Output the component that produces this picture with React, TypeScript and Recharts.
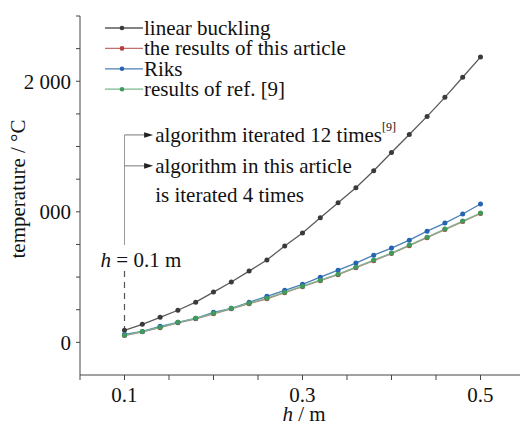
import React from "react";
import { LineChart, Line, XAxis, YAxis, Legend, ReferenceLine, ReferenceDot } from "recharts";

const hValues = [0.1, 0.12, 0.14, 0.16, 0.18, 0.2, 0.22, 0.24, 0.26, 0.28, 0.3, 0.32, 0.34, 0.36, 0.38, 0.4, 0.42, 0.44, 0.46, 0.48, 0.5];
const linearBuckling = [92, 138, 192, 246, 308, 385, 462, 546, 631, 738, 838, 954, 1069, 1185, 1315, 1454, 1592, 1731, 1877, 2031, 2185];
const thisArticle = [52, 81, 112, 150, 180, 219, 257, 296, 334, 380, 426, 472, 518, 572, 626, 680, 741, 802, 864, 925, 987];
const riks = [61, 84, 123, 154, 184, 230, 261, 307, 353, 399, 445, 499, 553, 607, 668, 722, 783, 852, 914, 983, 1060];
const refNine = [54, 84, 115, 154, 184, 223, 261, 300, 338, 384, 430, 476, 522, 576, 630, 684, 745, 806, 868, 929, 991];

const xTicks = [0.05, 0.1, 0.15, 0.2, 0.25, 0.3, 0.35, 0.4, 0.45, 0.5];
const xLabels: Record<string, string> = { "0.1": "0.1", "0.3": "0.3", "0.5": "0.5" };
const yTicks = [0, 250, 500, 750, 1000, 1250, 1500, 1750, 2000, 2250, 2500];
const yLabels: Record<string, string> = { "0": "0", "1000": "000", "2000": "2 000" };

const seriesNames = ["linear buckling", "the results of this article", "Riks", "results of ref. [9]"];

const data = hValues.map((h, i) => ({
  h,
  lin: linearBuckling[i],
  art: thisArticle[i],
  riks: riks[i],
  ref: refNine[i],
}));

const FONT = "'Liberation Serif', 'Times New Roman', serif";
const FS = 21;
const textStyle: React.CSSProperties = { fontFamily: FONT, fontSize: FS };

const styles = [
  { key: "lin", stroke: "#5a5a5a", dot: "#3a3a3a" },
  { key: "art", stroke: "#c07070", dot: "#b83a3a" },
  { key: "riks", stroke: "#4a7fb5", dot: "#2563b5" },
  { key: "ref", stroke: "#7bb88f", dot: "#3e9b5c" },
];

const LegendContent = () => (
  <svg width={300} height={90} style={{ overflow: "visible", display: "block" }}>
    {seriesNames.map((name, i) => {
      const y = 12 + i * 20.4;
      const s = styles[i];
      return (
        <g key={name}>
          <line x1={5} x2={43} y1={y} y2={y} stroke={s.stroke} strokeWidth={1.3} />
          <circle cx={22} cy={y} r={2.3} fill={s.dot} />
          <text x={44} y={y} dy="0.33em" style={textStyle} fill="#111">
            {name}
          </text>
        </g>
      );
    })}
  </svg>
);

const TextAt = (txt: React.ReactNode, anchor: "start" | "middle" = "start") => (props: any) => (
  <text x={props.cx} y={props.cy} dy="0.33em" textAnchor={anchor} style={textStyle} fill="#111">
    {txt}
  </text>
);

const Arrowhead = (props: any) => (
  <polygon
    points={`${props.cx},${props.cy} ${props.cx - 9},${props.cy - 2.8} ${props.cx - 9},${props.cy + 2.8}`}
    fill="#222"
  />
);

export default function App() {
  return (
    <div style={{ position: "absolute", left: 0, top: 0, width: 520, height: 426, background: "#fff", fontFamily: FONT }}>
      <LineChart width={520} height={426} data={data} margin={{ top: 16, right: 0, left: 0, bottom: 0 }}>
        <XAxis
          dataKey="h"
          type="number"
          domain={[0.05, 0.5444]}
          ticks={xTicks}
          allowDataOverflow
          height={51}
          tickSize={5}
          tickMargin={7}
          stroke="#444"
          tick={{ fontFamily: FONT, fontSize: FS, fill: "#111" }}
          tickFormatter={(v: number) => xLabels[String(Math.round(v * 100) / 100)] ?? ""}
          interval={0}
        />
        <YAxis
          type="number"
          domain={[-250, 2500]}
          ticks={yTicks}
          width={80}
          tickSize={4}
          tickMargin={5}
          stroke="#444"
          interval={0}
          tick={{ fontFamily: FONT, fontSize: FS, fill: "#111" }}
          tickFormatter={(v: number) => yLabels[String(v)] ?? ""}
        />
        <Legend
          layout="vertical"
          align="center"
          verticalAlign="middle"
          content={<LegendContent />}
          wrapperStyle={{ left: 100, top: 16, width: 300, height: 90 }}
        />
        <ReferenceLine segment={[{ x: 0.1, y: 1589 }, { x: 0.1, y: 746 }]} stroke="#999" strokeWidth={1} />
        <ReferenceLine segment={[{ x: 0.1, y: 547 }, { x: 0.1, y: 95 }]} stroke="#555" strokeWidth={1.2} strokeDasharray="6 5" />
        <ReferenceLine segment={[{ x: 0.1, y: 1589 }, { x: 0.128, y: 1589 }]} stroke="#777" strokeWidth={1} />
        <ReferenceLine segment={[{ x: 0.1, y: 1352 }, { x: 0.128, y: 1352 }]} stroke="#777" strokeWidth={1} />
        <ReferenceDot x={0.1322} y={1589} shape={Arrowhead} />
        <ReferenceDot x={0.1322} y={1352} shape={Arrowhead} />
        <ReferenceDot
          x={0.1345}
          y={1589}
          shape={TextAt(
            <>
              algorithm iterated 12 times
              <tspan fontSize={12} dy="-0.9em">[9]</tspan>
            </>
          )}
        />
        <ReferenceDot x={0.1345} y={1352} shape={TextAt("algorithm in this article")} />
        <ReferenceDot x={0.1345} y={1130} shape={TextAt("is iterated 4 times")} />
        <ReferenceDot
          x={0.1185}
          y={631}
          shape={TextAt(
            <>
              <tspan fontStyle="italic">h</tspan> = 0.1 m
            </>,
            "middle"
          )}
        />
        {styles.map((s) => (
          <Line
            key={s.key}
            dataKey={s.key}
            type="linear"
            stroke={s.stroke}
            strokeWidth={1.3}
            dot={{ r: 2.5, fill: s.dot, stroke: "none" }}
            isAnimationActive={false}
          />
        ))}
        <text x={304} y={421} textAnchor="middle" style={textStyle} fill="#111">
          <tspan fontStyle="italic">h</tspan> / m
        </text>
        <text
          x={25}
          y={189}
          textAnchor="middle"
          transform="rotate(-90, 25, 189)"
          style={textStyle}
          fill="#111"
        >
          temperature / °C
        </text>
      </LineChart>
    </div>
  );
}
